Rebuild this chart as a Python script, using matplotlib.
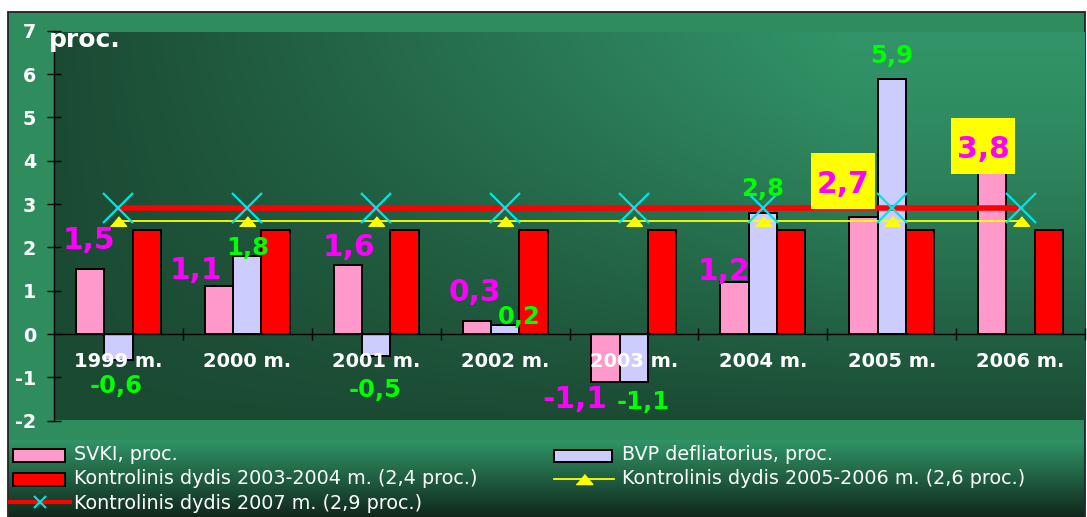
import numpy as np
import matplotlib
matplotlib.use("Agg")
import matplotlib.pyplot as plt
from matplotlib.patches import Rectangle
from matplotlib.lines import Line2D

plt.rcParams["font.family"] = ["DejaVu Sans"]
plt.rcParams["axes.unicode_minus"] = False

# Yearly values, percent
years = ["1999 m.", "2000 m.", "2001 m.", "2002 m.", "2003 m.", "2004 m.", "2005 m.", "2006 m."]
svki = [1.5, 1.1, 1.6, 0.3, -1.1, 1.2, 2.7, 3.8]
bvp_deflator = [-0.6, 1.8, -0.5, 0.2, -1.1, 2.8, 5.9, None]
limit_2003_2004 = [2.4, 2.4, 2.4, 2.4, 2.4, 2.4, 2.4, 2.4]
limit_2005_2006 = [2.6, 2.6, 2.6, 2.6, 2.6, 2.6, 2.6, 2.6]
limit_2007 = [2.9, 2.9, 2.9, 2.9, 2.9, 2.9, 2.9, 2.9]

legend_labels = [
    "SVKI, proc.",
    "BVP defliatorius, proc.",
    "Kontrolinis dydis 2003-2004 m. (2,4 proc.)",
    "Kontrolinis dydis 2005-2006 m. (2,6 proc.)",
    "Kontrolinis dydis 2007 m. (2,9 proc.)",
]

# label nudges relative to the end of each bar (category units, percent units)
svki_label_offsets = [(-0.01, 0.72), (-0.18, 0.44), (0.01, 0.46), (-0.01, 0.72),
                      (-0.24, -0.35), (-0.085, 0.31), (-0.16, 0.83), (-0.07, 0.54)]
bvp_label_offsets = [(-0.015, -0.55), (0.0, 0.25), (-0.01, -0.74), (0.11, 0.25),
                     (0.07, -0.42), (0.0, 0.60), (0.0, 0.57), None]
boxed_labels = {6, 7}

W, H = 1087, 517
PINK = "#ff99cc"
LAVENDER = "#ccccff"
RED = "#ff0000"
CYAN = "#00e5e8"
YELLOW = "#ffff00"
FRAME = "#2e8c5f"
TRIANGLE = [(-1, -0.6), (1, -0.6), (0, 0.6)]


def fmt(v):
    return f"{v:.1f}".replace(".", ",")


def draw_background(bg):
    bg.add_patch(Rectangle((8, 12), 1077, 510, facecolor=FRAME, edgecolor="#222222", lw=1.3, zorder=0))

    # plot area: light towards the upper right, dark towards the bottom
    dark = np.array([27, 74, 51]) / 255
    light = np.array([50, 148, 104]) / 255
    u = np.linspace(0, 1, 400)[None, :]
    v = np.linspace(0, 1, 200)[:, None]
    t = np.clip(1.3 * u, 0, 1) * (1 - v ** 1.4)
    img = dark + t[..., None] * (light - dark)
    bg.imshow(img, extent=(54, 1085, 420, 32), aspect="auto", interpolation="bilinear", zorder=1)

    # legend band fades to dark at the bottom
    top = np.array([48, 148, 102]) / 255
    bottom = np.array([16, 40, 28]) / 255
    s = np.linspace(0, 1, 100)[:, None, None]
    band = np.repeat(top + s * (bottom - top), 10, axis=1)
    bg.imshow(band, extent=(9, 1084, 517, 440), aspect="auto", interpolation="bilinear", zorder=1)

    bg.set_xlim(0, W)
    bg.set_ylim(H, 0)
    bg.axis("off")


def draw_legend(bg):
    text_kw = dict(color="white", fontsize=13.8, ha="left", va="baseline", zorder=3)

    bg.add_patch(Rectangle((13, 449), 52, 13, facecolor=PINK, edgecolor="black", lw=1.4, zorder=2))
    bg.text(74, 460, legend_labels[0], **text_kw)

    bg.add_patch(Rectangle((554, 450), 58, 12, facecolor=LAVENDER, edgecolor="black", lw=1.4, zorder=2))
    bg.text(622, 460, legend_labels[1], **text_kw)

    bg.add_patch(Rectangle((13, 473), 52, 13, facecolor=RED, edgecolor="black", lw=1.4, zorder=2))
    bg.text(74, 484.5, legend_labels[2], **text_kw)

    bg.add_line(Line2D([554, 614], [479, 479], color=YELLOW, lw=1.3, zorder=2))
    bg.add_line(Line2D([584], [479], marker=TRIANGLE, markersize=12, color=YELLOW, lw=0, zorder=2))
    bg.text(622, 484.5, legend_labels[3], **text_kw)

    bg.add_line(Line2D([10, 70], [502, 502], color=RED, lw=3, zorder=2))
    bg.add_line(Line2D([40], [502], marker="x", markersize=9, mec=CYAN, mew=1.5, lw=0, zorder=3))
    bg.text(74, 509, legend_labels[4], **text_kw)


def plot_inflation(ax):
    x = np.arange(len(years))
    width = 0.22
    bar_kw = dict(width=width, edgecolor="black", linewidth=1.4, zorder=1)

    ax.bar(x - width, svki, color=PINK, **bar_kw)
    bvp_x = [i for i, v in enumerate(bvp_deflator) if v is not None]
    ax.bar(np.array(bvp_x), [bvp_deflator[i] for i in bvp_x], color=LAVENDER, **bar_kw)
    ax.bar(x + width, limit_2003_2004, color=RED, **bar_kw)

    ax.plot(x, limit_2005_2006, color=YELLOW, lw=1.3, marker=TRIANGLE, markersize=11.5,
            mfc=YELLOW, mec=YELLOW, zorder=2.1)
    ax.plot(x, limit_2007, color=RED, lw=4, marker="x", markersize=21, mec=CYAN, mew=1.6, zorder=2.2)

    # value labels
    for i, v in enumerate(svki):
        dx, dy = svki_label_offsets[i]
        lx, ly = i - width + dx, v + dy
        if i in boxed_labels:
            ax.add_patch(Rectangle((lx - 0.248, ly - 0.647), 0.496, 1.294, facecolor=YELLOW,
                                   edgecolor="none", zorder=4))
        ax.text(lx, ly, fmt(v), color="#ff00ff", fontsize=21.4, fontweight="bold",
                ha="center", va="center_baseline", zorder=5)
    for i, v in enumerate(bvp_deflator):
        if v is None:
            continue
        dx, dy = bvp_label_offsets[i]
        ax.text(i + dx, v + dy, fmt(v), color="#00ff00", fontsize=17.5, fontweight="bold",
                ha="center", va="center_baseline", zorder=5)

    ax.set_xlim(-0.5, len(years) - 0.5)
    ax.set_ylim(-2, 7)
    ax.set_facecolor("none")

    for side in ("top", "right"):
        ax.spines[side].set_visible(False)
    ax.spines["bottom"].set_position(("data", 0))
    ax.spines["left"].set_linewidth(1)
    ax.spines["bottom"].set_linewidth(1)

    ax.set_yticks(range(-2, 8))
    ax.set_yticklabels([str(v) for v in range(-2, 8)])
    ax.tick_params(axis="y", direction="inout", length=10.5, width=1, color="black",
                   labelcolor="white", labelsize=13.8, pad=7.7)
    for lbl in ax.get_yticklabels():
        lbl.set_fontweight("bold")

    ax.set_xticks(np.arange(0.5, len(years), 1))
    ax.set_xticklabels([])
    ax.set_xticks(x, minor=True)
    ax.set_xticklabels(years, minor=True)
    ax.tick_params(axis="x", which="major", direction="inout", length=8.5, width=1, color="black")
    ax.tick_params(axis="x", which="minor", length=0, labelcolor="white", labelsize=14, pad=13.3)
    for lbl in ax.get_xticklabels(minor=True):
        lbl.set_fontweight("bold")

    ax.text(-0.54, 6.63, "proc.", color="white", fontsize=18, fontweight="bold",
            ha="left", va="baseline", clip_on=False, zorder=5)


def main() -> None:
    fig = plt.figure(figsize=(W / 100, H / 100), dpi=100, facecolor="white")

    bg = fig.add_axes([0, 0, 1, 1], zorder=0)
    draw_background(bg)
    draw_legend(bg)

    ax = fig.add_axes([54 / W, (H - 420.6) / H, 1031 / W, (420.6 - 30.9) / H], zorder=1)
    plot_inflation(ax)

    fig.savefig("out.png", dpi=100, facecolor="white")


if __name__ == "__main__":
    main()
